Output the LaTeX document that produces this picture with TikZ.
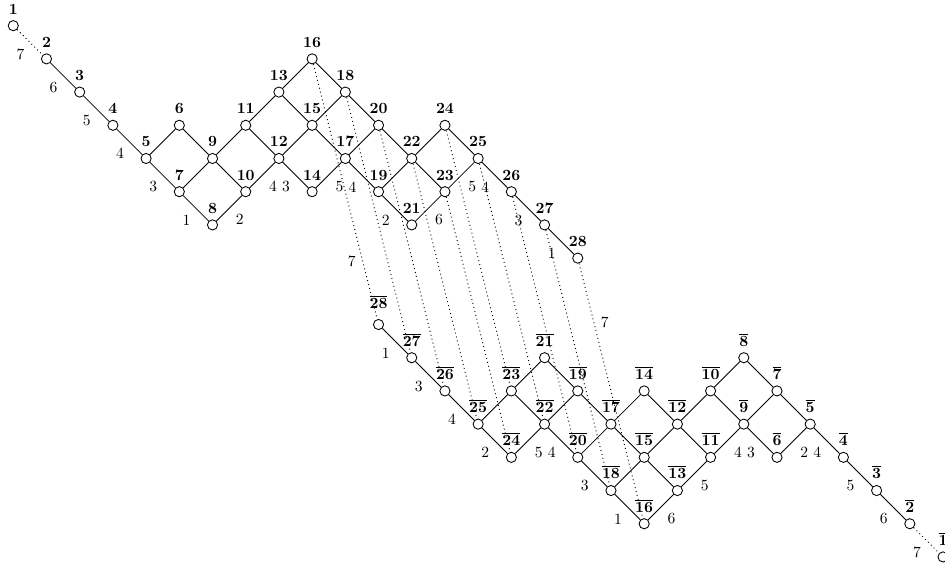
\documentclass[tikz,border=0pt]{standalone}
\begin{document}
\begin{tikzpicture}[x=0.75cm, y=-0.75cm,
  v/.style={circle, draw, minimum size=2.3mm, inner sep=0pt, line width=0.55pt},
  edge/.style={line width=0.55pt},
  dots/.style={dotted, line width=0.6pt},
  dlab/.style={inner sep=0pt, xshift=-6.1pt, yshift=-7.6pt},
  alab/.style={inner sep=0pt, xshift=6.9pt, yshift=-7.4pt},
  llab/.style={inner sep=0pt}]
\useasboundingbox (-0.40,-0.773) rectangle (28.06,16.34);

% weights: upper half at (i,j), lower (barred) half rotated by 180 degrees
\foreach \k/\i/\j in {1/0/0,2/1/1,3/2/2,4/3/3,5/4/4,6/5/3,7/5/5,8/6/6,9/6/4,
  10/7/5,11/7/3,12/8/4,13/8/2,14/9/5,15/9/3,16/9/1,17/10/4,18/10/2,19/11/5,
  20/11/3,21/12/6,22/12/4,23/13/5,24/13/3,25/14/4,26/15/5,27/16/6,28/17/7}{
  \pgfmathsetmacro\bd{ifthenelse(\k==28,3,0.4)}
  \node[v, label={[label distance=0.4pt]above:$\mathbf{\k}$}] (t\k) at (\i,\j) {};
  \node[v, label={[label distance=\bd pt]above:$\overline{\mathbf{\k}}$}] (b\k) at ({28-\i},{16-\j}) {};
}

% solid edges in both halves
\foreach \a/\b in {2/3,3/4,4/5,5/6,5/7,6/9,7/9,7/8,8/10,9/10,9/11,10/12,11/12,
  11/13,12/14,12/15,13/15,13/16,14/17,15/17,15/18,16/18,17/19,17/20,18/20,
  19/21,19/22,20/22,21/23,22/23,22/24,23/25,24/25,25/26,26/27,27/28}{
  \draw[edge] (t\a) -- (t\b);
  \draw[edge] (b\a) -- (b\b);
}

% dotted edges of colour 7
\draw[dots] (t1) -- node[dlab]{7} (t2);
\draw[dots] (b2) -- node[dlab]{7} (b1);
\draw[dots] (t16) -- node[llab, pos=0.773, xshift=-7.1pt]{7} (b28);
\draw[dots] (t28) -- node[llab, pos=0.232, xshift=7pt]{7} (b16);
\foreach \a/\b in {18/27,20/26,22/25,23/24,24/23,25/22,26/20,27/18}{
  \draw[dots] (t\a) -- (b\b);
}

% edge colours, upper half
\foreach \a/\b/\c in {2/3/6,3/4/5,4/5/4,5/7/3,7/8/1,12/14/3,17/19/4,19/21/2,
  25/26/4,26/27/3,27/28/1}{
  \path (t\a) -- node[dlab]{\c} (t\b);
}
\foreach \a/\b/\c in {8/10/2,10/12/4,14/17/5,21/23/6,23/25/5}{
  \path (t\a) -- node[alab]{\c} (t\b);
}

% edge colours, lower half
\foreach \a/\b/\c in {28/27/1,27/26/3,26/25/4,25/24/2,22/20/4,20/18/3,18/16/1,
  9/6/3,5/4/4,4/3/5,3/2/6}{
  \path (b\a) -- node[dlab]{\c} (b\b);
}
\foreach \a/\b/\c in {24/22/5,16/13/6,13/11/5,11/9/4,6/5/2}{
  \path (b\a) -- node[alab]{\c} (b\b);
}
\end{tikzpicture}
\end{document}
